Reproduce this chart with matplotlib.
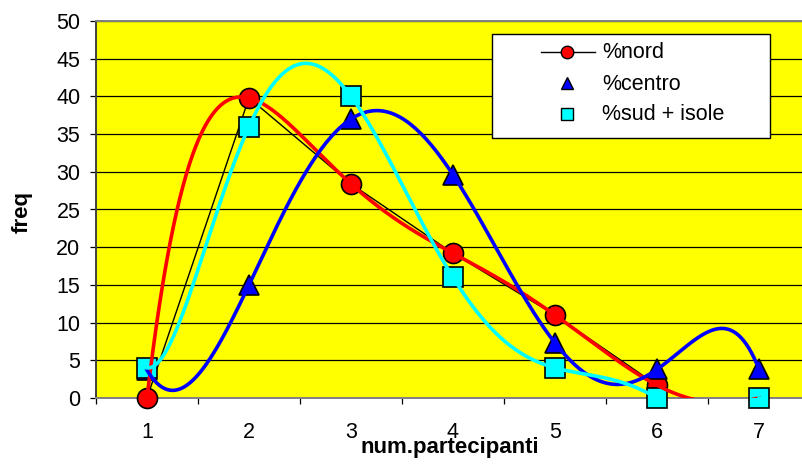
import numpy as np
import matplotlib
matplotlib.use("Agg")
import matplotlib.pyplot as plt
from matplotlib.lines import Line2D
from matplotlib.patches import Rectangle

# Frequency (%) of the number of participants, by area
categories = [1, 2, 3, 4, 5, 6, 7]
nord = [0.0, 39.8, 28.4, 19.2, 11.0, 1.7, np.nan]   # last cell left blank
centro = [3.7, 15.0, 37.0, 29.6, 7.3, 3.8, 3.8]
sud_isole = [4.0, 36.0, 40.0, 16.0, 4.0, 0.0, 0.0]
series_labels = ["%nord", "%centro", "%sud + isole"]
y_ticks = list(range(0, 55, 5))

W, H = 803, 465
FONT = "Liberation Sans"
FS = 15.5

fig = plt.figure(figsize=(W / 100, H / 100), dpi=100)
fig.patch.set_facecolor("white")

# plot area (extends slightly past the right edge of the canvas)
ax = fig.add_axes([96 / W, (H - 398) / H, 714 / W, 377 / H])
ax.set_facecolor("#FFFF00")
ax.set_xlim(0.5, 7.5)
ax.set_ylim(0, 50)

ax.set_yticks(y_ticks)
ax.yaxis.grid(True, color="black", lw=0.9)
ax.set_axisbelow(True)

ax.set_xticks(categories)
ax.set_xticks(np.arange(0.5, 8.0, 1.0), minor=True)
ax.tick_params(axis="x", which="major", length=0, pad=17.0)
ax.tick_params(axis="x", which="minor", length=4.0, width=0.9, color="black", direction="out")
ax.tick_params(axis="y", length=4.3, width=0.9, color="black", direction="out", pad=7)
for lab in ax.get_xticklabels() + ax.get_yticklabels():
    lab.set_fontfamily(FONT)
    lab.set_fontsize(FS)

for side in ("top", "right", "bottom"):
    ax.spines[side].set_color("#808080")
    ax.spines[side].set_linewidth(1.4)
ax.spines["left"].set_color("#404040")
ax.spines["left"].set_linewidth(1.4)

ax.set_xlabel("num.partecipanti", fontfamily=FONT, fontsize=16, fontweight="bold", va="center")
ax.xaxis.set_label_coords((450 - 96) / 714, (398 - 447) / 377)
ax.set_ylabel("freq", fontfamily=FONT, fontsize=16, fontweight="bold", va="center")
ax.yaxis.set_label_coords((22 - 96) / 714, (398 - 212) / 377)

# series markers (nord also joined by a thin black line)
ax.plot(categories, nord, color="black", lw=1.0, marker="o", ms=14.4,
        mfc="#FF0000", mec="black", mew=1.2, zorder=3, clip_on=False)
ax.plot(categories, centro, ls="none", marker="^", ms=15.0,
        mfc="#0000FF", mec="black", mew=1.2, zorder=3, clip_on=False)
ax.plot(categories, sud_isole, ls="none", marker="s", ms=14.4,
        mfc="#00FFFF", mec="black", mew=1.2, zorder=3, clip_on=False)

# 6th-order polynomial trendlines (blank cells count as zero)
xs = np.linspace(categories[0], categories[-1], 240)
for vals, color in ((nord, "#FF0000"), (centro, "#0000FF"), (sud_isole, "#00FFFF")):
    coeffs = np.polyfit(categories, np.nan_to_num(vals), 6)
    ax.plot(xs, np.polyval(coeffs, xs), color=color, lw=2.6, zorder=5)

# legend box
def fx(px):
    return px / W


def fy(py):
    return 1 - py / H


fig.add_artist(Rectangle((fx(492), fy(138)), fx(770) - fx(492), fy(34) - fy(138),
                         transform=fig.transFigure, facecolor="white",
                         edgecolor="black", lw=1.0, zorder=10))
rows = [52, 83, 114]
baselines = [57.5, 90.5, 120.5]
fig.add_artist(Line2D([fx(541), fx(595)], [fy(rows[0])] * 2, transform=fig.transFigure,
                      color="black", lw=1.0, zorder=11))
styles = [("o", "#FF0000"), ("^", "#0000FF"), ("s", "#00FFFF")]
for (mk, col), yrow, base, label in zip(styles, rows, baselines, series_labels):
    fig.add_artist(Line2D([fx(567)], [fy(yrow)], transform=fig.transFigure, ls="none",
                          marker=mk, ms=9, mfc=col, mec="black", mew=1.0, zorder=12))
    fig.text(fx(602), fy(base), label, fontfamily=FONT, fontsize=FS,
             va="baseline", ha="left", zorder=12)

fig.savefig("out.png", dpi=100)
